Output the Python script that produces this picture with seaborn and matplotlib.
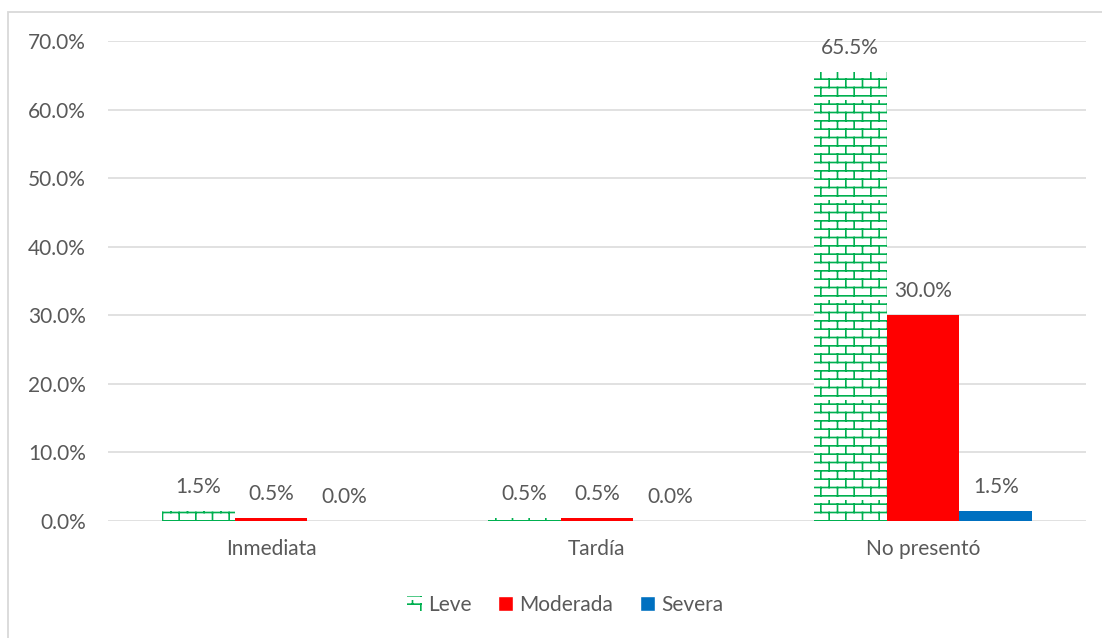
import numpy as np
import pandas as pd
import matplotlib
matplotlib.use("Agg")
import matplotlib.pyplot as plt
import matplotlib.hatch as mhatch
from matplotlib.path import Path
from matplotlib.patches import Patch, Rectangle
from matplotlib.ticker import FuncFormatter
import seaborn as sns

# data (percent)
categories = ["Inmediata", "Tardía", "No presentó"]
leve = [1.5, 0.5, 65.5]
moderada = [0.5, 0.5, 30.0]
severa = [0.0, 0.0, 1.5]
series_names = ["Leve", "Moderada", "Severa"]
y_ticks = [0, 10, 20, 30, 40, 50, 60, 70]

GREEN = "#00B050"
RED = "#FF0000"
BLUE = "#0070C0"
TEXT = "#595959"
GRID = "#D9D9D9"
FS = 15


class BrickHatch(mhatch.HatchPatternBase):
    """Excel-like brick pattern, triggered by 'b' in the hatch string."""

    def __init__(self, hatch, density):
        self.rows = 12 if "b" in hatch else 0
        self.cols = 6
        self.num_vertices = self.rows * 2 + self.rows * self.cols * 2

    def set_vertices_and_codes(self, vertices, codes):
        h = 1.0 / self.rows
        w = 1.0 / self.cols
        k = 0
        for r in range(self.rows):
            y = r * h + h / 2
            vertices[k] = (0.0, y)
            vertices[k + 1] = (1.0, y)
            k += 2
        for r in range(self.rows):
            y = r * h + h / 2
            off = w / 4 if r % 2 == 0 else w / 4 + w / 2
            for c in range(self.cols):
                x = c * w + off
                vertices[k] = (x, y)
                vertices[k + 1] = (x, y + h)
                k += 2
        codes[0::2] = Path.MOVETO
        codes[1::2] = Path.LINETO


mhatch._hatch_types.append(BrickHatch)

sns.set_theme(style="white")
plt.rcParams["font.family"] = ["Lato", "DejaVu Sans"]
plt.rcParams["hatch.linewidth"] = 1.2
plt.rcParams["hatch.color"] = GREEN

df = pd.DataFrame({
    "cat": categories * 3,
    "serie": [s for s in series_names for _ in categories],
    "valor": leve + moderada + severa,
})

fig = plt.figure(figsize=(11.02, 6.38), dpi=100)
ax = fig.add_axes([108 / 1102, 1 - 521 / 638, (1086 - 108) / 1102, (521 - 41) / 638])

sns.barplot(data=df, x="cat", y="valor", hue="serie", hue_order=series_names,
            order=categories, palette={"Leve": "white", "Moderada": RED, "Severa": BLUE},
            saturation=1, width=0.67, gap=0, legend=False, ax=ax, linewidth=0)

for bar in ax.containers[0]:
    bar.set_hatch("b")
    bar.set_edgecolor(GREEN)
    bar.set_linewidth(0)

for cont in ax.containers:
    ax.bar_label(cont, fmt="%.1f%%", padding=10, fontsize=FS, color=TEXT)

ax.set_ylim(0, 70)
ax.set_xlim(-0.5, 2.5)
ax.set_yticks(y_ticks)
ax.yaxis.set_major_formatter(FuncFormatter(lambda v, p: f"{v:.1f}%"))
ax.set_xlabel("")
ax.set_ylabel("")
ax.grid(axis="y", color=GRID, linewidth=1.1)
ax.set_axisbelow(True)
for s in ax.spines.values():
    s.set_visible(False)
ax.tick_params(axis="y", length=0, pad=16, labelsize=FS, labelcolor=TEXT)
ax.tick_params(axis="x", length=0, pad=13, labelsize=FS, labelcolor=TEXT)

handles = [
    Patch(facecolor="white", edgecolor=GREEN, hatch="b", linewidth=0, label="Leve"),
    Patch(facecolor=RED, label="Moderada"),
    Patch(facecolor=BLUE, label="Severa"),
]
fig.legend(handles=handles, loc="center", bbox_to_anchor=(565 / 1102, 1 - 605 / 638),
           ncol=3, frameon=False, fontsize=FS, labelcolor=TEXT,
           handlelength=0.7, handleheight=0.7, handletextpad=0.3, columnspacing=1.3)

fig.patches.append(Rectangle((8 / 1102, -0.1), 1.0, 1 - 11.5 / 638 + 0.1,
                             transform=fig.transFigure, fill=False,
                             edgecolor=GRID, linewidth=1.3))

fig.savefig("out.png", dpi=100)
